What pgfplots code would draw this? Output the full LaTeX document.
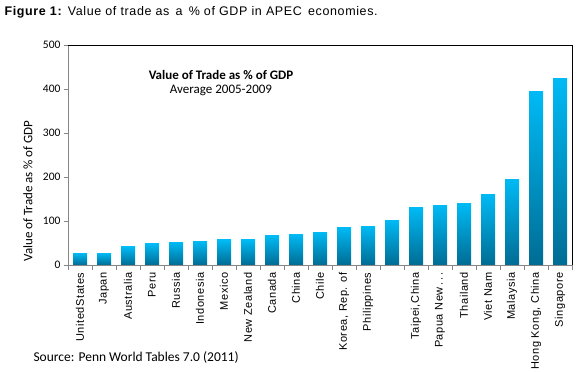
\documentclass[border=0pt]{standalone}
\usepackage{fontspec}
\setmainfont{Liberation Sans}
\newfontfamily\calibri{Carlito}
\usepackage{pgfplots}
\pgfplotsset{compat=1.18}
\definecolor{bartop}{RGB}{0,186,245}
\definecolor{barbot}{RGB}{0,108,148}
\definecolor{axgray}{RGB}{134,134,134}
\pgfplotsset{onebar/.style={ybar, bar width=14pt, bar shift=0pt, draw=none, top color=bartop, bottom color=barbot, forget plot}}
\begin{document}
\begin{tikzpicture}[x=1pt,y=1pt]
\path[use as bounding box] (0,0) rectangle (581,372);
\begin{axis}[
  at={(68pt,107pt)}, anchor=south west,
  scale only axis, width=504pt, height=220pt,
  xmin=-0.5, xmax=20.5, ymin=0, ymax=500,
  axis x line*=bottom, axis y line*=left,
  axis line style={axgray},
  tick align=outside,
  major tick length=4pt, minor tick length=5pt,
  ytick={0,100,200,300,400,500},
  ytick style={axgray},
  xtick={0,...,20},
  major x tick style={draw=none},
  minor xtick={-0.5,0.5,...,20.5},
  minor x tick style={axgray},
  xticklabels={UnitedStates,Japan,Australia,Peru,Russia,Indonesia,Mexico,New Zealand,Canada,China,Chile,{Korea, Rep. of},Philippines,{},{Taipei,China},{Papua New\,.\,.\,.},Thailand,Viet Nam,Malaysia,{Hong Kong, China},Singapore},
  xticklabel style={rotate=90, anchor=east, font=\fontsize{11}{12}\selectfont\addfontfeature{LetterSpace=5}},
  yticklabel style={font=\calibri\fontsize{11.5}{13}\selectfont},
  /pgf/number format/assume math mode=true,
  clip=false,
]
\addplot[onebar] coordinates {(0,27)};
\addplot[onebar] coordinates {(1,27)};
\addplot[onebar] coordinates {(2,41)};
\addplot[onebar] coordinates {(3,48)};
\addplot[onebar] coordinates {(4,52)};
\addplot[onebar] coordinates {(5,54)};
\addplot[onebar] coordinates {(6,57)};
\addplot[onebar] coordinates {(7,57)};
\addplot[onebar] coordinates {(8,66)};
\addplot[onebar] coordinates {(9,70)};
\addplot[onebar] coordinates {(10,75)};
\addplot[onebar] coordinates {(11,86)};
\addplot[onebar] coordinates {(12,88)};
\addplot[onebar] coordinates {(13,102)};
\addplot[onebar] coordinates {(14,131)};
\addplot[onebar] coordinates {(15,136)};
\addplot[onebar] coordinates {(16,140)};
\addplot[onebar] coordinates {(17,161)};
\addplot[onebar] coordinates {(18,195)};
\addplot[onebar] coordinates {(19,394)};
\addplot[onebar] coordinates {(20,425)};
\draw[black] (rel axis cs:0,1) -- (rel axis cs:1,1) -- (rel axis cs:1,0);
\end{axis}
\node[anchor=west, font=\fontsize{12.5}{14}\selectfont\addfontfeature{LetterSpace=5}] at (1,360) {\textbf{Figure 1:} Value of trade as\, a\, \% of GDP in APEC\, economies.};
\node[rotate=90, font=\calibri\fontsize{13}{15}\selectfont] at (28,181) {Value of Trade as \% of GDP};
\node[font=\calibri\bfseries\fontsize{13}{15}\selectfont] at (221,297) {Value of Trade as \% of GDP};
\node[font=\calibri\fontsize{13}{15}\selectfont] at (221,282) {Average 2005-2009};
\node[anchor=west, font=\calibri\fontsize{13.5}{15}\selectfont] at (30,15) {Source: Penn World Tables 7.0 (2011)};
\end{tikzpicture}
\end{document}
